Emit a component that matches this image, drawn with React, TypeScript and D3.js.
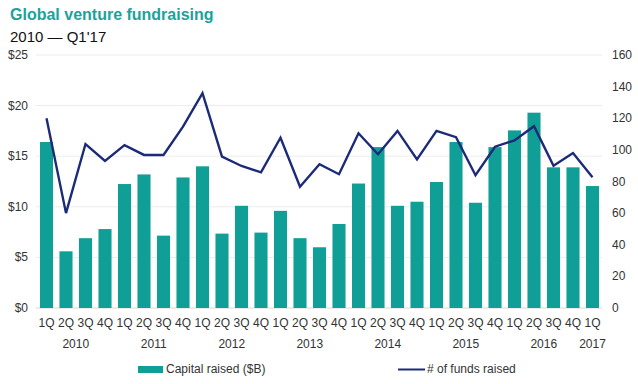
import React from 'react'
import * as d3 from 'd3'

// quarters 2010 1Q .. 2017 1Q
const quarters = [
  '1Q', '2Q', '3Q', '4Q', '1Q', '2Q', '3Q', '4Q', '1Q', '2Q', '3Q', '4Q',
  '1Q', '2Q', '3Q', '4Q', '1Q', '2Q', '3Q', '4Q', '1Q', '2Q', '3Q', '4Q',
  '1Q', '2Q', '3Q', '4Q', '1Q',
]
const years = ['2010', '2011', '2012', '2013', '2014', '2015', '2016', '2017']

// capital raised ($B)
const capital = [
  16.4, 5.6, 6.9, 7.8, 12.25, 13.2, 7.15, 12.9, 14.0, 7.35, 10.1, 7.45,
  9.6, 6.9, 6.0, 8.3, 12.3, 15.9, 10.1, 10.5, 12.45, 16.4, 10.4, 15.9,
  17.55, 19.3, 13.9, 13.9, 12.05,
]
// # of funds raised
const funds = [
  120, 60, 103.7, 93, 103, 96.8, 96.8, 114.7, 135.8, 95.7, 89.8, 85.8,
  107.7, 76.7, 90.9, 84.6, 110.5, 97.2, 112, 94, 112, 108, 84, 102,
  106, 115, 90, 98, 82.7,
]

const leftTicks = [0, 5, 10, 15, 20, 25]
const rightTicks = [0, 20, 40, 60, 80, 100, 120, 140, 160]

const W = 638
const H = 384
const TEAL = '#0f9f97'
const NAVY = '#1c2b78'
const FONT = 'Liberation Sans, Arial, sans-serif'
const FS = 12

export default function App() {
  const idx = quarters.map((_, i) => String(i))
  const x = d3.scaleBand().domain(idx).range([36.75, 602.25]).paddingInner(0.33).paddingOuter(0.165)
  const yL = d3.scaleLinear().domain([0, 25]).range([308, 55])
  const yR = d3.scaleLinear().domain([0, 160]).range([308, 55])
  const cx = (i: number) => (x(String(i)) ?? 0) + x.bandwidth() / 2

  const fundLine = d3.line<number>()
    .x((_, i) => cx(i))
    .y(d => yR(d))

  return (
    <svg width={W} height={H} style={{ position: 'fixed', left: 0, top: 0, background: '#fff' }} fontFamily={FONT}>
      <rect width={W} height={H} fill="#fff" />
      <text x={10} y={20} fill="#1aa39b" fontSize={16} fontWeight="bold">Global venture fundraising</text>
      <text x={10} y={42} fill="#111" fontSize={15}>2010 — Q1'17</text>

      {leftTicks.map(t => (
        <g key={'l' + t}>
          {t > 0 && <line x1={36} x2={602} y1={yL(t)} y2={yL(t)} stroke="#ececec" strokeWidth={1} />}
          <text x={28} y={yL(t) + 4} textAnchor="end" fontSize={FS} fill="#333">${t}</text>
        </g>
      ))}
      {rightTicks.map(t => (
        <text key={'r' + t} x={612} y={yR(t) + 4} fontSize={FS} fill="#333">{t}</text>
      ))}
      <line x1={36} x2={602} y1={308} y2={308} stroke="#d8d8d8" />

      {capital.map((v, i) => (
        <rect key={'b' + i} x={x(String(i))} y={yL(v)} width={x.bandwidth()} height={yL(0) - yL(v)} fill={TEAL} />
      ))}

      <path d={fundLine(funds) ?? ''} fill="none" stroke={NAVY} strokeWidth={2.4} strokeLinejoin="miter" />

      {quarters.map((q, i) => (
        <text key={'q' + i} x={cx(i)} y={327} textAnchor="middle" fontSize={FS} fill="#333">{q}</text>
      ))}
      {years.map((yr, k) => {
        const first = k * 4
        const last = Math.min(first + 3, quarters.length - 1)
        return (
          <text key={yr} x={(cx(first) + cx(last)) / 2} y={348} textAnchor="middle" fontSize={FS} fill="#333">{yr}</text>
        )
      })}

      <rect x={138} y={366} width={25} height={7} fill={TEAL} />
      <text x={166} y={373} fontSize={FS} fill="#333">Capital raised ($B)</text>
      <line x1={398} x2={425} y1={369.5} y2={369.5} stroke={NAVY} strokeWidth={2} />
      <text x={427} y={373} fontSize={FS} fill="#333"># of funds raised</text>
    </svg>
  )
}
